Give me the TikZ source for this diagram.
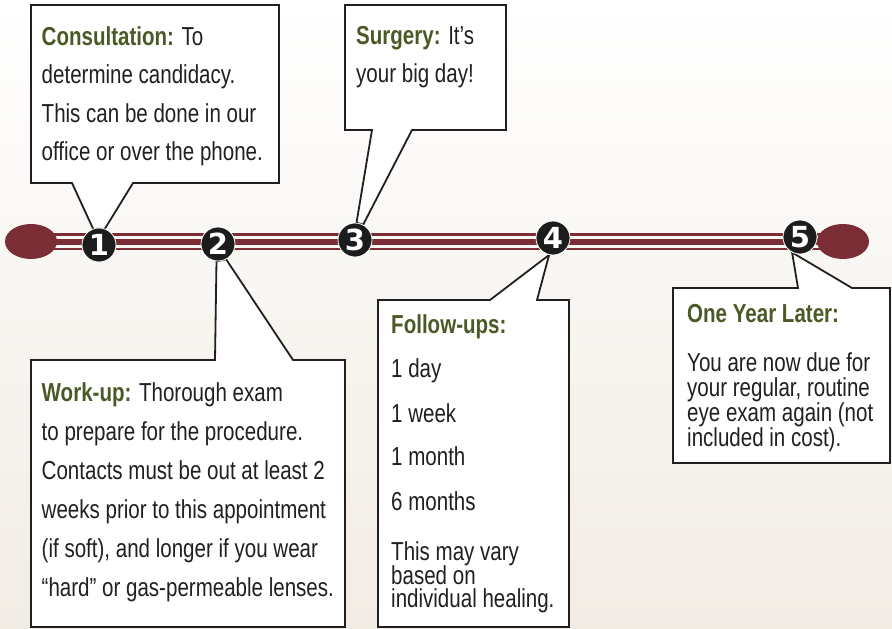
\documentclass[tikz,border=0pt]{standalone}
\usepackage{fontspec}
\setmainfont{Liberation Sans}[FakeStretch=0.79]
\newfontfamily\numfont{DejaVu Sans}
\usetikzlibrary{shapes.geometric,calc}
\pgfdeclarelayer{back}
\pgfdeclarelayer{callouts}
\pgfsetlayers{back,callouts,main}
\definecolor{maroon}{RGB}{122,45,53}
\definecolor{headgreen}{RGB}{75,89,38}
\definecolor{ink}{RGB}{35,31,32}
\definecolor{bgc}{RGB}{241,236,228}
\definecolor{dotblack}{RGB}{28,28,28}
\setlength{\lineskiplimit}{-30pt}
\begin{document}
\begin{tikzpicture}[x=1pt,y=-1pt,
  endcap/.style={ellipse,fill=maroon,minimum width=52pt,minimum height=35pt,inner sep=0pt},
  stripe/.style={draw=maroon},
  stepnum/.style={circle,fill=dotblack,draw=white,line width=0.8pt,minimum size=34pt,inner sep=0pt,
    text=white,font=\numfont\bfseries\fontsize{29}{29}\selectfont},
  callout/.style={fill=white,draw=ink,line width=1.8pt},
  txt/.style={anchor=north west,inner sep=0pt,align=left,text=ink,
    font=\fontsize{26}{38.5}\selectfont},
  tighttxt/.style={anchor=north west,inner sep=0pt,align=left,text=ink,
    font=\fontsize{26}{23.5}\selectfont}]
\useasboundingbox (0,0) rectangle (892,629);
\begin{pgfonlayer}{back}
  \shade[top color=white,bottom color=bgc] (0,0) rectangle (892,629);
\end{pgfonlayer}

% timeline ends
\node[endcap] (e1) at (31,241.5) {};
\node[endcap] (e2) at (843,241.5) {};
\begin{pgfonlayer}{back}
  \draw[stripe,line width=2.7pt] ([yshift=6.8pt]e1.center) -- ([yshift=6.8pt]e2.center);
  \draw[stripe,line width=5.4pt] ([yshift=-0.5pt]e1.center) -- ([yshift=-0.5pt]e2.center);
  \draw[stripe,line width=2.4pt] ([yshift=-7.4pt]e1.center) -- ([yshift=-7.4pt]e2.center);
\end{pgfonlayer}

% step markers
\node[stepnum] (c1) at (99,245) {1};
\node[stepnum] (c2) at (218,244) {2};
\node[stepnum] (c3) at (355,240) {3};
\node[stepnum] (c4) at (553,238) {4};
\node[stepnum] (c5) at (800,237) {5};

% callouts
\begin{pgfonlayer}{callouts}
  \draw[callout] (31,5) -- (279,5) -- (279,183) -- (133,183) -- (c1.70) -- (c1.110) -- (72,183) -- (31,183) -- cycle;
  \draw[callout] (345,5) -- (506,5) -- (506,130) -- (412,130) -- (c3.62) -- (c3.85) -- (372,130) -- (345,130) -- cycle;
  \draw[callout] (31,360) -- (215,360) -- (c2.265) -- (c2.298) -- (293,360) -- (345,360) -- (345,627) -- (31,627) -- cycle;
  \draw[callout] (378,300) -- (490,300) -- (c4.257) -- (537,300) -- (569,300) -- (569,627) -- (378,627) -- cycle;
  \draw[callout] (673,288) -- (798,288) -- (c5.243) -- (852,288) -- (890,288) -- (890,463) -- (673,463) -- cycle;
\end{pgfonlayer}

% texts
\node[txt] (t1) at (41.5,26) {\textcolor{headgreen}{\textbf{Consultation:}} To\\
  determine candidacy.\\ This can be done in our\\ office or over the phone.};
\node[txt] (t3) at (356,26) {\textcolor{headgreen}{\textbf{Surgery:}} It’s\\ your big day!};
\node[txt,font=\fontsize{26}{39}\selectfont] (t2) at (41.5,382) {\textcolor{headgreen}{\textbf{Work-up:}} Thorough exam\\
  to prepare for the procedure.\\ Contacts must be out at least 2\\
  weeks prior to this appointment\\ (if soft), and longer if you wear\\
  “hard” or gas-permeable lenses.};
\node[tighttxt] (t4) at (391,314) {\textcolor{headgreen}{\textbf{Follow-ups:}}\\[20.5pt]
  1 day\\[21.5pt] 1 week\\[19.5pt] 1 month\\[21.5pt] 6 months\\[27pt]
  This may vary\\ based on\\ individual healing.};
\node[tighttxt,font=\fontsize{26}{25}\selectfont] (t5) at (687,304) {\textcolor{headgreen}{\textbf{One Year Later:}}\\[24pt]
  You are now due for\\ your regular, routine\\ eye exam again (not\\ included in cost).};
\end{tikzpicture}
\end{document}
